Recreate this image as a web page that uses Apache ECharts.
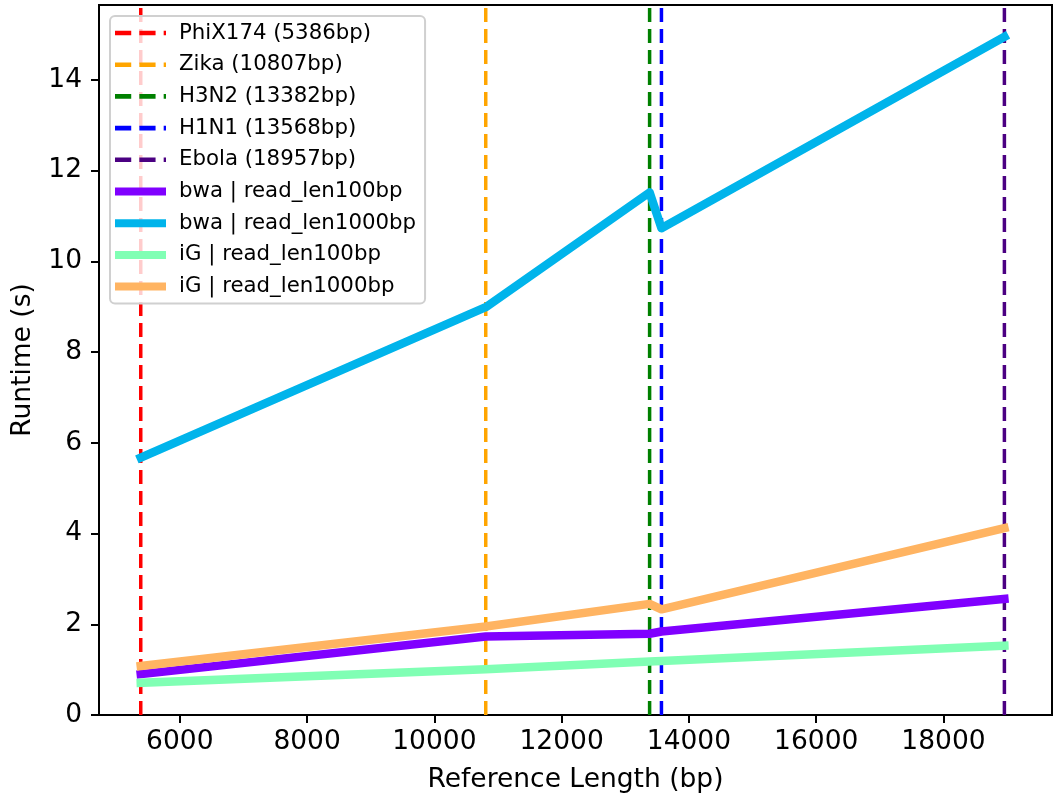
<!DOCTYPE html>
<html>
<head>
<meta charset="utf-8">
<script src="https://cdn.jsdelivr.net/npm/echarts@6/dist/echarts.min.js"></script>
<style>
html,body{margin:0;padding:0;background:#fff;}
#chart{width:1058px;height:799px;}
</style>
</head>
<body>
<div id="chart"></div>
<script>
// ---- data ----
const refNames = ["PhiX174", "Zika", "H3N2", "H1N1", "Ebola"];
const refLengths = [5386, 10807, 13382, 13568, 18957];
const refColors = ["#ff0000", "#ffa500", "#008000", "#0000ff", "#4b0082"];

const seriesNames = ["bwa | read_len100bp", "bwa | read_len1000bp", "iG | read_len100bp", "iG | read_len1000bp"];
const bwa100 = [0.90, 1.73, 1.79, 1.84, 2.56];
const bwa1000 = [5.67, 8.99, 11.52, 10.73, 14.95];
const ig100 = [0.71, 1.01, 1.18, 1.19, 1.53];
const ig1000 = [1.08, 1.95, 2.45, 2.33, 4.12];
const seriesColors = ["#8000ff", "#00b4eb", "#80ffb4", "#ffb462"];

const xTicks = [6000, 8000, 10000, 12000, 14000, 16000, 18000];
const yTicks = [0, 2, 4, 6, 8, 10, 12, 14];
const X_MIN = 4730, X_MAX = 19705;
const Y_MIN = 0, Y_MAX = 15.65;

const FONT = "DejaVu Sans";
const DASH_ICON = "path://M0,0h14v4h-14z M21,0h14v4h-14z M42,0h2v4h-2z";

// ---- build ----
const series = [];
const legendData = [];
refNames.forEach((n, i) => {
  const name = n + " (" + refLengths[i] + "bp)";
  series.push({
    name: name,
    type: "line",
    data: [[refLengths[i], Y_MIN], [refLengths[i], Y_MAX]],
    symbol: "none",
    z: 1,
    lineStyle: {color: refColors[i], width: 3.5, type: [14, 7]},
    itemStyle: {color: refColors[i]},
    silent: true
  });
  legendData.push({name: name, icon: DASH_ICON});
});
[bwa100, bwa1000, ig100, ig1000].forEach((vals, i) => {
  series.push({
    name: seriesNames[i],
    type: "line",
    data: refLengths.map((x, j) => [x, vals[j]]),
    symbol: "none",
    z: 3,
    lineStyle: {color: seriesColors[i], width: 8.5, join: "round", cap: "square"},
    itemStyle: {color: seriesColors[i]}
  });
  legendData.push({name: seriesNames[i], icon: "rect"});
});

const chart = echarts.init(document.getElementById("chart"), null, {renderer: "canvas"});
chart.setOption({
  animation: false,
  backgroundColor: "#ffffff",
  textStyle: {fontFamily: FONT},
  grid: {left: 99, right: 6, top: 5, bottom: 84, show: true, borderColor: "#000", borderWidth: 2, backgroundColor: "transparent"},
  legend: {
    show: true,
    orient: "vertical",
    left: 110,
    top: 16,
    padding: [6, 9, 6, 5],
    itemWidth: 51,
    itemHeight: 8,
    itemGap: 9.7,
    symbolKeepAspect: true,
    backgroundColor: "rgba(255,255,255,0.8)",
    borderColor: "#d0d0d0",
    borderWidth: 2,
    borderRadius: 5,
    textStyle: {fontFamily: FONT, fontSize: 21.3, color: "#000", lineHeight: 22, padding: [0, 0, 0, 8]},
    data: legendData
  },
  xAxis: {
    type: "value",
    min: X_MIN,
    max: X_MAX,
    name: "Reference Length (bp)",
    nameLocation: "middle",
    nameGap: 52,
    nameTextStyle: {fontFamily: FONT, fontSize: 26.5, color: "#000"},
    axisLine: {show: true, onZero: false, lineStyle: {color: "#000", width: 2}},
    axisTick: {show: true, length: 8, lineStyle: {color: "#000", width: 2}, customValues: xTicks},
    axisLabel: {fontFamily: FONT, fontSize: 26.5, color: "#000", margin: 14, customValues: xTicks, formatter: v => String(v)},
    splitLine: {show: false}
  },
  yAxis: {
    type: "value",
    min: Y_MIN,
    max: Y_MAX,
    name: "Runtime (s)",
    nameLocation: "middle",
    nameGap: 62,
    nameRotate: 90,
    nameTextStyle: {fontFamily: FONT, fontSize: 26.5, color: "#000"},
    axisLine: {show: true, onZero: false, lineStyle: {color: "#000", width: 2}},
    axisTick: {show: true, length: 8, lineStyle: {color: "#000", width: 2}, customValues: yTicks},
    axisLabel: {fontFamily: FONT, fontSize: 26.5, color: "#000", margin: 17, customValues: yTicks, formatter: v => String(v)},
    splitLine: {show: false}
  },
  series: series
});
</script>
</body>
</html>
